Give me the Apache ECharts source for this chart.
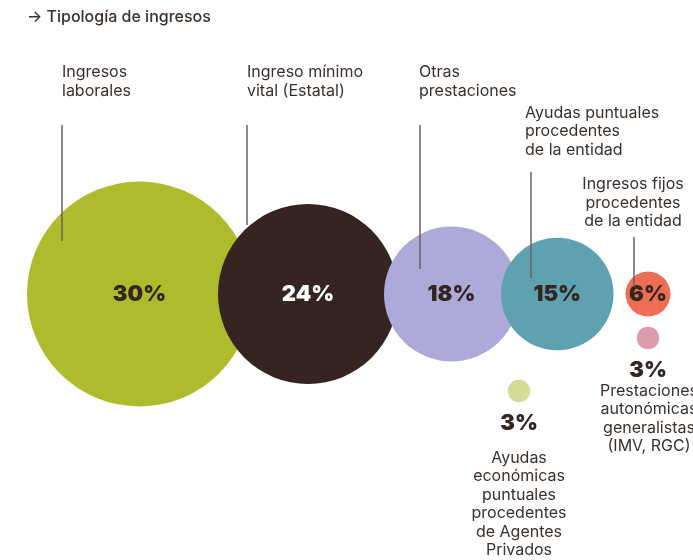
<!DOCTYPE html>
<html><head><meta charset="utf-8">
<script src="https://cdn.jsdelivr.net/npm/echarts@6/dist/echarts.min.js"></script>
<style>html,body{margin:0;padding:0;background:#fff}#c{width:693px;height:560px}</style>
</head><body><div id="c"></div>
<script>
// ---------- DATA ----------
const titleText = '→ Tipología de ingresos';
const categories = [
  'Ingresos laborales',
  'Ingreso mínimo vital (Estatal)',
  'Otras prestaciones',
  'Ayudas puntuales procedentes de la entidad',
  'Ingresos fijos procedentes de la entidad',
  'Ayudas económicas puntuales procedentes de Agentes Privados',
  'Prestaciones autonómicas generalistas (IMV, RGC)'
];
const values = [30, 24, 18, 15, 6, 3, 3];
const labelLines = [
  ['Ingresos', 'laborales'],
  ['Ingreso mínimo', 'vital (Estatal)'],
  ['Otras', 'prestaciones'],
  ['Ayudas puntuales', 'procedentes', 'de la entidad'],
  ['Ingresos fijos', 'procedentes', 'de la entidad'],
  ['Ayudas', 'económicas', 'puntuales', 'procedentes', 'de Agentes', 'Privados'],
  ['Prestaciones', 'autonómicas', 'generalistas', '(IMV, RGC)']
];

// ---------- STYLE ----------
const colors = ['#AFBA2D', '#35241F', '#ADA9D9', '#5EA1B0', '#EC6E55', '#D6DC98', '#DA9BAD'];
const pctColors = ['#35241F', '#FFFFFF', '#35241F', '#35241F', '#35241F', '#35241F', '#35241F'];
const TEXT = '#3b302d';
const LINE = '#6e605b';
const FONT = 'Inter, "Noto Sans", sans-serif';

// ---------- LAYOUT ----------
const R_PER_PT = 3.75;           // radius in px per percentage point
const ROW_Y = 294;
const FIRST_LEFT = 27;
const GAPS = [-34, -14, -18, 12]; // gap between consecutive bubble edges in main row
const r = values.map(v => v * R_PER_PT);
const cx = [], cy = [];
for (let i = 0; i < 5; i++) {
  cx[i] = i === 0 ? FIRST_LEFT + r[0] : cx[i - 1] + r[i - 1] + GAPS[i - 1] + r[i];
  cy[i] = ROW_Y;
}
// small bubbles
cx[5] = cx[2] + r[2]; cy[5] = ROW_Y + 97;
cx[6] = cx[4];        cy[6] = ROW_Y + 44;

// leader lines (main row)
const leadDx = [-77.5, -61, -32, -27, -14];
const leadTop = [125, 125, 125, 172, 237];
const leadBot = [241, 225, 269, 278, 287];
// text blocks: [x, topY, align, lineHeight]
const textPos = [
  [62, 62.5, 'left', 19],
  [247, 62.5, 'left', 19],
  [419, 62.5, 'left', 19],
  [525, 103.5, 'left', 18.7],
  [633, 175.5, 'center', 18.3],
  [519, 448.5, 'center', 18.5],
  [649, 381.5, 'center', 18.6]
];

const chart = echarts.init(document.getElementById('c'), null, {renderer: 'canvas'});

const pctLabel = (v, i) => ({
  show: true, formatter: v + '%',
  color: pctColors[i], fontSize: 22, fontWeight: 900, fontFamily: FONT
});
const bubbleData = values.map((v, i) => ({
  name: categories[i],
  value: [cx[i], cy[i], v],
  itemStyle: {color: colors[i], opacity: 1},
  label: Object.assign(pctLabel(v, i), i < 5 ? {position: 'inside'} : {position: 'bottom', distance: 10})
}));

const leadData = leadDx.map((dx, i) => ({coords: [[cx[i] + dx, leadTop[i]], [cx[i] + dx, leadBot[i]]]}));

const graphics = [{
  type: 'text', x: 27, y: 17,
  style: {text: titleText, font: '500 16px ' + FONT, fill: TEXT, textVerticalAlign: 'middle'}
}];
labelLines.forEach((lines, i) => {
  const [x, y, align, lh] = textPos[i];
  graphics.push({
    type: 'text', x: x, y: y, z: 10,
    style: {
      text: lines.join('\n'), font: '16px ' + FONT, fill: TEXT,
      textAlign: align, textVerticalAlign: 'top', lineHeight: lh
    }
  });
});

chart.setOption({
  animation: false,
  grid: {left: 0, right: 0, top: 0, bottom: 0},
  xAxis: {type: 'value', min: 0, max: 693, show: false},
  yAxis: {type: 'value', min: 0, max: 560, inverse: true, show: false},
  graphic: graphics,
  series: [
    {
      type: 'scatter', data: bubbleData,
      symbolSize: d => d[2] * R_PER_PT * 2,
      z: 2
    },
    {
      type: 'lines', coordinateSystem: 'cartesian2d', data: leadData,
      lineStyle: {color: LINE, width: 1.5, opacity: 1}, symbol: 'none', z: 5
    }
  ]
});
</script></body></html>
